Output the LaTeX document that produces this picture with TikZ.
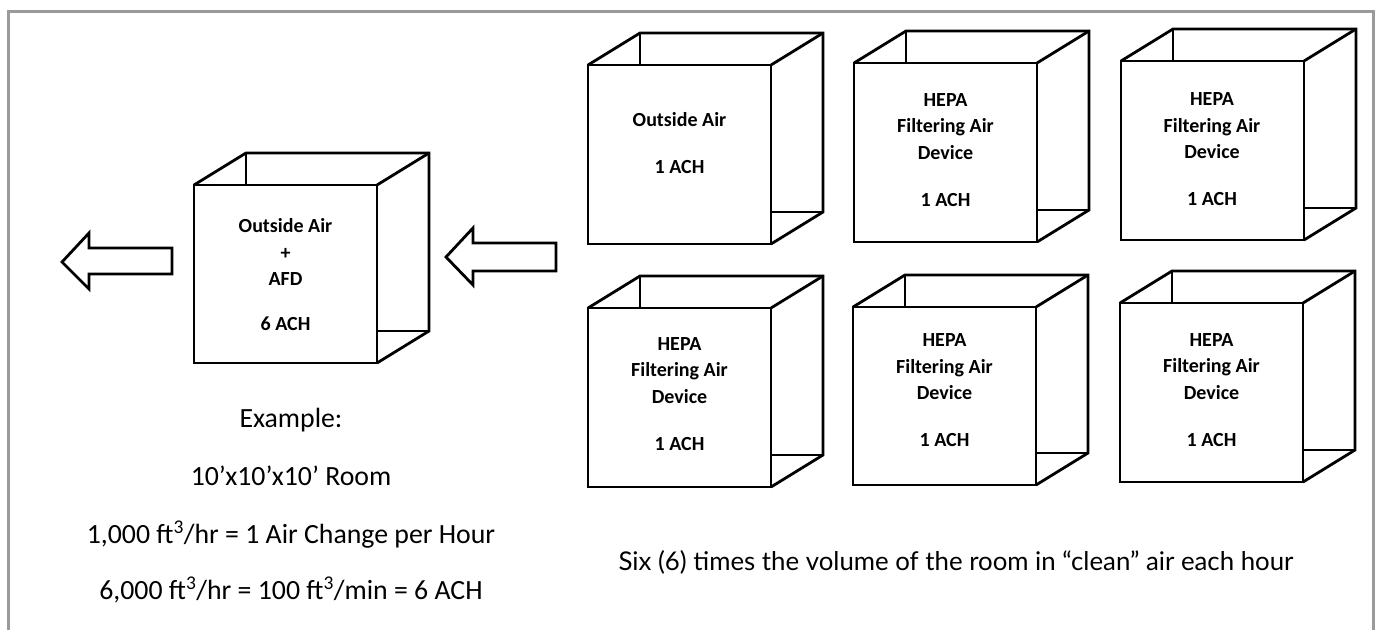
\documentclass[tikz,border=0pt]{standalone}
\usepackage{fontspec}
\setmainfont{Carlito}
\newfontfamily\latofont{Lato}
\usetikzlibrary{calc}
\definecolor{framegray}{HTML}{9A9A9A}
\tikzset{
  face/.style={draw, line width=2.8pt, inner sep=0pt, outer sep=0pt, fill=white},
  edge/.style={line width=2.8pt},
  cubetext/.style={align=center, font=\bfseries\fontsize{20}{26.5}\selectfont},
  note/.style={anchor=base, font=\fontsize{27.8}{32}\selectfont},
  blockarrow/.style={draw, line width=2.8pt, fill=white},
  frameline/.style={draw=framegray, line width=3pt},
}
\newcommand\aircube[5]{%
  \node[face, minimum width=#4pt, minimum height=#5pt, anchor=north west] (#1) at (#2,#3) {};
  \draw[edge] (#1.north west) -- ++(52,-32) coordinate (#1-b)
     -- ($(#1.north east)+(52,-32)$) -- ($(#1.south east)+(52,-32)$) -- (#1.south east);
  \draw[edge] (#1.north east) -- ($(#1.north east)+(52,-32)$);
  \draw[edge] (#1-b) -- (#1-b |- #1.north);
  \draw[edge] ($(#1.south east)+(52,-32)$) -- ($(#1.south east)+(0,-32)$);
}
\begin{document}
\begin{tikzpicture}[x=1pt,y=-1pt]
\useasboundingbox (0,0) rectangle (1375,630);
\draw[frameline] (8,630) -- (8,11) -- (1373,11) -- (1373,630);

% cubes
\aircube{c}{194}{185}{183}{178}
\aircube{ta}{588}{65}{183}{179}
\aircube{tb}{854}{63}{183}{179}
\aircube{tc}{1121}{61}{183}{179}
\aircube{ba}{588}{308}{183}{179}
\aircube{bb}{853}{307}{183}{178}
\aircube{bc}{1120}{303}{183}{179}

% cube labels
\node[cubetext] (lc) at (285.5,274.5) {Outside Air\\+\\AFD\\[18pt]6 ACH};
\node[cubetext] (lta) at (679.5,143) {Outside Air\\[20.5pt]1 ACH};
\node[cubetext] (ltb) at (945.5,150) {HEPA\\Filtering Air\\Device\\[20.5pt]1 ACH};
\node[cubetext] (ltc) at (1212,149.5) {HEPA\\Filtering Air\\Device\\[20.5pt]1 ACH};
\node[cubetext] (lba) at (679.5,394) {HEPA\\Filtering Air\\Device\\[20.5pt]1 ACH};
\node[cubetext] (lbb) at (944.5,390.5) {HEPA\\Filtering Air\\Device\\[20.5pt]1 ACH};
\node[cubetext] (lbc) at (1211.5,390) {HEPA\\Filtering Air\\Device\\[20.5pt]1 ACH};

% block arrows
\draw[blockarrow] (62,262) -- (89,233) -- (89,248) -- (172,248) -- (172,274) -- (89,274) -- (89,289) -- cycle;
\draw[blockarrow] (446,257) -- (473,228) -- (473,243) -- (556,243) -- (556,271) -- (473,271) -- (473,285) -- cycle;

% notes
\node[note] (n1) at (291,427) {Example:};
\node[note] (n2) at (291,485) {10’x10’x10’ Room};
\node[note] (n3) at (291,543) {1,000 ft\textsuperscript{3}/hr = 1 Air Change per Hour};
\node[note] (n4) at (291,599) {6,000 ft\textsuperscript{3}/hr = 100 ft\textsuperscript{3}/min = 6 ACH};
\node[anchor=base, font=\latofont\fontsize{25.8}{30}\selectfont] (six) at (956,570) {Six (6) times the volume of the room in “clean” air each hour};
\end{tikzpicture}
\end{document}
